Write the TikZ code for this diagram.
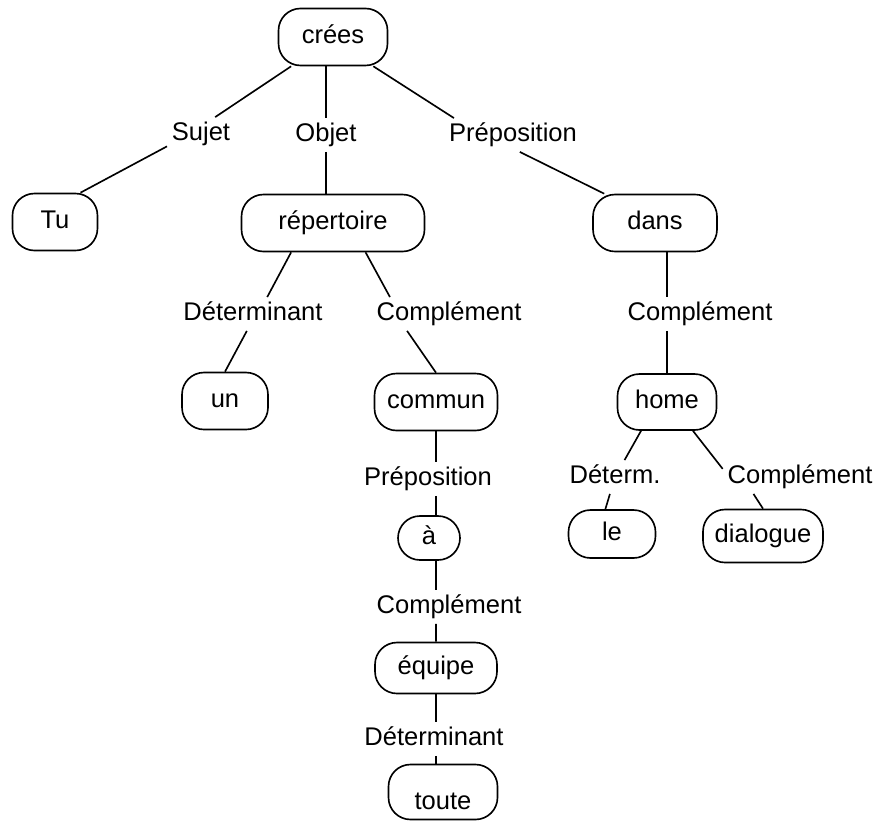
\documentclass[tikz,border=0pt]{standalone}
\usepackage{fontspec}
\setmainfont{Liberation Sans}
\usepackage{tikz}
\usetikzlibrary{positioning}

\begin{document}
\begin{tikzpicture}[
    node distance=2.7cm,
    word/.style={rectangle, rounded corners=0.66cm, minimum height=1.71cm, inner sep=2pt, text height=16pt, text depth=4.5pt, text centered, draw=black, line width=1.4pt, font=\fontsize{21.8}{26}\selectfont},
    role/.style={inner sep=4pt, text height=16pt, text depth=4.5pt, font=\fontsize{21.8}{26}\selectfont},
    branch/.style={line width=1.4pt}
]
\useasboundingbox (-9.99,1.11) rectangle (16.29,-23.52);

\node[word, minimum width=3.27cm] (cree) {crées};
\node[role, below of=cree, xshift=-3.96cm, yshift=-0.21cm] (sujet) {Sujet};
\node[role, below of=cree, xshift=-0.21cm, yshift=-0.24cm] (objet) {Objet};
\node[role, below of=cree, xshift=5.4cm, yshift=-0.24cm] (prepa) {Préposition};

\node[word, minimum width=2.55cm, below of=sujet, xshift=-4.38cm, yshift=0.06cm] (tu) {Tu};
\node[word, minimum width=5.49cm, below of=objet, xshift=0.21cm, yshift=0.06cm] (repert) {répertoire};
\node[word, minimum width=3.72cm, below of=prepa, xshift=4.26cm, yshift=0.06cm] (dans) {dans};

\node[role, below of=repert, xshift=-2.4cm, yshift=-0.03cm] (detA) {Déterminant};
\node[role, below of=repert, xshift=3.48cm, yshift=-0.03cm] (complA) {Complément};
\node[role, below of=dans, xshift=1.35cm, yshift=-0.03cm] (complB) {Complément};

\node[word, minimum width=2.58cm, below of=detA, xshift=-0.84cm, yshift=0.09cm] (un) {un};
\node[word, minimum width=3.69cm, below of=complA, xshift=-0.39cm, yshift=0.06cm] (commun) {commun};
\node[word, minimum width=2.97cm, minimum height=1.68cm, below of=complB, xshift=-0.99cm, yshift=0.06cm] (home) {home};

\node[role, below of=commun, xshift=-0.24cm, yshift=0.39cm] (prepb) {Préposition};
\node[role, below of=home, xshift=-1.56cm, yshift=0.45cm] (determ) {Déterm.};
\node[role, below of=home, xshift=3.99cm, yshift=0.45cm] (complC) {Complément};

\node[word, minimum width=1.86cm, minimum height=1.32cm, below of=prepb, xshift=0.03cm, yshift=0.93cm] (a) {à};
\node[word, minimum width=2.61cm, minimum height=1.44cm, below of=determ, xshift=-0.09cm, yshift=0.99cm] (le) {le};
\node[word, minimum width=3.6cm, minimum height=1.59cm, below of=complC, xshift=-1.11cm, yshift=0.93cm] (dialogue) {dialogue};

\node[role, below of=a, xshift=0.6cm, yshift=0.63cm] (complD) {Complément};
\node[word, minimum width=3.66cm, minimum height=1.53cm, below of=complD, xshift=-0.39cm, yshift=0.87cm] (equipe) {équipe};
\node[role, below of=equipe, xshift=-0.06cm, yshift=0.57cm] (detB) {Déterminant};
\node[word, minimum width=3.27cm, minimum height=1.65cm, text height=34pt, below of=detB, xshift=0.27cm, yshift=1.11cm] (toute) {toute};

% top level
\draw[branch] (cree.215) -- (sujet.50);
\draw[branch] (sujet.200) -- (tu.49);
\draw[branch] (cree.south -| objet) -- (objet);
\draw[branch] (objet) -- (objet |- repert.north);
\draw[branch] (cree.324) -- (prepa.164);
\draw[branch] (prepa.292) -- (dans.150);

% under répertoire
\draw[branch] (repert.215) -- (detA.50);
\draw[branch] (detA.250) -- (un.north);
\draw[branch] (repert.318) -- (complA.164);
\draw[branch] (complA.202) -- (commun.north);

% under dans
\draw[branch] (dans.south -| home) -- (complB.north -| home);
\draw[branch] (complB.south -| home) -- (home);
\draw[branch] (home.228) -- (determ);
\draw[branch] (determ) -- (le.105);
\draw[branch] (home.312) -- (complC.174);
\draw[branch] (complC.200) -- (dialogue.north);

% under commun
\draw[branch] (commun) -- (prepb.north -| commun);
\draw[branch] (prepb.south -| commun) -- (a.north -| commun);
\draw[branch] (a.south -| commun) -- (complD.north -| commun);
\draw[branch] (complD.south -| commun) -- (equipe);
\draw[branch] (equipe) -- (detB.north -| equipe);
\draw[branch] (detB.south -| equipe) -- (toute.north -| equipe);

\end{tikzpicture}
\end{document}
